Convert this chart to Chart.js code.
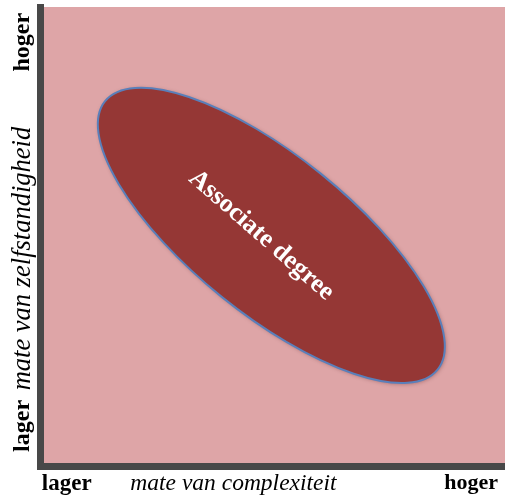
<!DOCTYPE html>
<html>
<head>
<meta charset="utf-8">
<script src="https://cdn.jsdelivr.net/npm/chart.js@4"></script>
<style>
  html, body { margin: 0; padding: 0; background: #ffffff; }
  #wrap { position: relative; width: 505px; height: 501px; }
</style>
</head>
<body>
<div id="wrap"><canvas id="degreeChart"></canvas></div>
<script>
// Degree level shown as an oval between two ends of its long axis
const degreeNames = ['Associate degree'];
const startComplexity = [1.4];
const startAutonomy = [7.95];
const endComplexity = [8.55];
const endAutonomy = [2.1];
const ovalHalfWidth = [1.7]; // across the long axis, in complexity units

// Axis labels and where they sit on the scale
const xTickValues = [0.04, 4.16, 9.85];
const xTickLabels = ['lager', 'mate van complexiteit', 'hoger'];
const yTickValues = [1.44, 7.39, 9.87];
const yTickLabels = ['lager', 'mate van zelfstandigheid', 'hoger'];

const PINK = '#dea5a7';
const AXIS = '#484848';

const serif = '"Liberation Serif", serif';
const xFonts = [
    { family: serif, size: 23, weight: 'bold' },
    { family: serif, size: 23.5, style: 'italic', weight: 'normal' },
    { family: serif, size: 22, weight: 'bold' }
];
const yFonts = [
    { family: serif, size: 24, weight: 'bold' },
    { family: serif, size: 26.5, style: 'italic', weight: 'normal' },
    { family: serif, size: 24, weight: 'bold' }
];

// Fill the plot area
const backgroundPlugin = {
    id: 'background',
    beforeDraw(chart) {
        const { ctx, chartArea } = chart;
        ctx.save();
        ctx.fillStyle = PINK;
        ctx.fillRect(chartArea.left, chartArea.top, chart.width - chartArea.left, chartArea.bottom - chartArea.top);
        ctx.restore();
    }
};

// Draw each oval from its two points, plus its name
const ovalPlugin = {
    id: 'ovals',
    afterDatasetsDraw(chart) {
        const ctx = chart.ctx;
        const xScale = chart.scales.x;
        chart.data.datasets.forEach((ds, i) => {
            const meta = chart.getDatasetMeta(i);
            const p0 = meta.data[0];
            const p1 = meta.data[1];
            const cx = (p0.x + p1.x) / 2;
            const cy = (p0.y + p1.y) / 2;
            const rx = Math.hypot(p1.x - p0.x, p1.y - p0.y) / 2;
            const ry = Math.abs(xScale.getPixelForValue(ovalHalfWidth[i]) - xScale.getPixelForValue(0));
            const angle = Math.atan2(p1.y - p0.y, p1.x - p0.x);

            ctx.save();
            ctx.shadowColor = 'rgba(60, 0, 0, 0.35)';
            ctx.shadowBlur = 4;
            ctx.shadowOffsetX = 1;
            ctx.shadowOffsetY = 1;
            ctx.beginPath();
            ctx.ellipse(cx, cy, rx, ry, angle, 0, Math.PI * 2);
            ctx.fillStyle = ds.backgroundColor;
            ctx.fill();
            ctx.shadowColor = 'transparent';
            ctx.lineWidth = 2;
            ctx.strokeStyle = ds.borderColor;
            ctx.stroke();

            ctx.translate(cx - 10, cy);
            ctx.rotate(angle + 0.04);
            ctx.font = 'bold 26px "Liberation Serif", serif';
            ctx.fillStyle = '#ffffff';
            ctx.textAlign = 'center';
            ctx.textBaseline = 'middle';
            ctx.fillText(ds.label, 0, 0);
            ctx.restore();
        });
    }
};

new Chart(document.getElementById('degreeChart'), {
    type: 'scatter',
    data: {
        datasets: degreeNames.map((name, i) => ({
            label: name,
            data: [
                { x: startComplexity[i], y: startAutonomy[i] },
                { x: endComplexity[i], y: endAutonomy[i] }
            ],
            pointRadius: 0,
            backgroundColor: '#953735',
            borderColor: '#5a7fba'
        }))
    },
    options: {
        responsive: true,
        maintainAspectRatio: false,
        animation: false,
        layout: { padding: { top: 7, right: 0, left: 0, bottom: 0 } },
        plugins: {
            legend: { display: false },
            tooltip: { enabled: false }
        },
        scales: {
            x: {
                type: 'linear',
                min: 0,
                max: 10,
                grid: { display: false, drawTicks: false },
                border: { display: true, color: AXIS, width: 7 },
                afterBuildTicks(scale) {
                    scale.ticks = xTickValues.map(v => ({ value: v }));
                },
                afterFit(scale) {
                    scale.height = 35;
                    scale.paddingLeft = 0;
                    scale.paddingRight = 0;
                },
                ticks: {
                    autoSkip: false,
                    align: 'inner',
                    minRotation: 0,
                    maxRotation: 0,
                    padding: 4,
                    color: '#000000',
                    font: c => xFonts[c.index] || xFonts[0],
                    callback: (value, index) => xTickLabels[index]
                }
            },
            y: {
                type: 'linear',
                min: 0,
                max: 10,
                grid: { display: false, drawTicks: false },
                border: { display: true, color: AXIS, width: 7 },
                afterBuildTicks(scale) {
                    scale.ticks = yTickValues.map(v => ({ value: v }));
                },
                afterFit(scale) {
                    scale.width = 40;
                    scale.paddingTop = 0;
                    scale.paddingBottom = 0;
                },
                ticks: {
                    autoSkip: false,
                    minRotation: 90,
                    maxRotation: 90,
                    crossAlign: 'near',
                    padding: 17,
                    color: '#000000',
                    font: c => yFonts[c.index] || yFonts[0],
                    callback: (value, index) => yTickLabels[index]
                }
            }
        }
    },
    plugins: [backgroundPlugin, ovalPlugin]
});
</script>
</body>
</html>
